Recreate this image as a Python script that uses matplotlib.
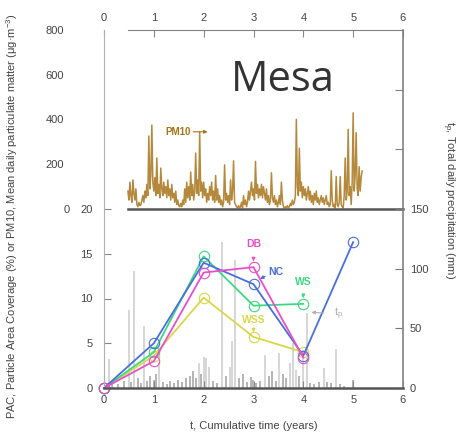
import matplotlib
matplotlib.use('Agg')
import matplotlib.pyplot as plt
import matplotlib.transforms as mtransforms
import numpy as np

plt.rcParams['font.family'] = ['Liberation Sans', 'DejaVu Sans']
plt.rcParams['mathtext.default'] = 'regular'

# PAC (%) at each yearly visit, per site
years = [0, 1, 2, 3, 4, 5]
pac_nc = [0.0, 5.0, 14.0, 11.6, 3.6, 16.3]
pac_db = [0.0, 3.0, 12.9, 13.5, 3.4]
pac_ws = [0.0, 4.0, 14.7, 9.2, 9.4]
pac_wss = [0.0, 3.6, 10.1, 5.7, 4.0]

# daily precipitation events (years, mm)
rain_t = [0.10, 0.16, 0.28, 0.40, 0.50, 0.54, 0.61, 0.68, 0.74, 0.80,
          0.86, 0.92, 1.00, 1.04, 1.10, 1.18, 1.26, 1.32, 1.40, 1.48,
          1.56, 1.64, 1.72, 1.78, 1.84, 1.90, 1.94, 2.00, 2.05, 2.10,
          2.18, 2.26, 2.37, 2.44, 2.52, 2.57, 2.62, 2.70, 2.78, 2.86,
          2.94, 2.98, 3.06, 3.14, 3.24, 3.32, 3.38, 3.46, 3.52, 3.60,
          3.66, 3.73, 3.80, 3.86, 3.92, 3.99, 4.07, 4.14, 4.22, 4.32,
          4.41, 4.48, 4.56, 4.65, 4.74, 4.82, 5.00]
rain_mm = [24, 4, 3, 6, 65, 5, 98, 8, 4, 52,
           6, 10, 7, 12, 21, 5, 3, 6, 4, 7,
           5, 8, 10, 14, 8, 21, 12, 26, 25, 18,
           6, 4, 122, 10, 18, 39, 107, 8, 12, 5,
           9, 7, 4, 6, 28, 10, 14, 6, 29, 12,
           8, 21, 38, 15, 10, 32, 63, 4, 3, 5,
           17, 5, 4, 33, 3, 2, 7]

# PM10 daily record (ug/m3), sampled every 0.02 yr from t = 0.48
pm10_start = 0.48
pm10 = [80, 40, 120, 60, 30, 130, 70, 40, 90, 20, 10, 30, 15,
        20, 40, 60, 30, 80, 50, 110, 60,
        326, 90, 150, 375, 120, 80, 140, 60, 228, 70, 110, 50, 183, 90,
        60, 120, 70, 100, 50, 130, 60, 90, 40, 110, 50, 70, 30, 80, 20,
        40, 15, 10, 25, 10, 40, 20, 90, 30, 120, 50, 100, 40, 165, 60,
        110, 40, 80, 250, 70, 130, 60, 345, 80, 120, 50, 120, 60, 90, 30,
        70, 40, 100, 60, 120, 40, 80, 30,
        150, 40, 90, 30, 60, 20, 40, 10, 30, 197, 40, 70, 30, 60, 20,
        130, 40, 80, 215, 30, 20, 10, 5, 15, 5, 10, 30, 5, 60, 20, 40,
        10, 30, 80, 40, 80, 120, 60, 90, 40, 213, 70, 110, 50, 90, 60,
        110, 50, 100, 70, 40, 90, 30, 60, 20, 40, 162, 50, 30, 60, 20,
        40, 10, 30, 60, 20, 120, 40, 10, 5, 10, 5, 15, 5, 10, 25, 15,
        40, 20, 30, 60, 401, 100, 60, 272, 80, 120, 50, 100, 60, 90, 40,
        70, 100, 40, 80, 30, 60, 20, 70, 40, 80, 30, 50, 20, 40, 60, 30,
        50, 20, 40, 60, 20, 30, 10, 20, 171, 40, 10, 20, 5, 145, 20, 10,
        30, 145, 20, 10, 5, 60, 228, 40, 80, 356, 60, 100, 20, 120, 430,
        80, 150, 341, 90, 60, 189, 80, 140, 170]

c_nc = '#4a6ee0'
c_db = '#ea4fc8'
c_ws = '#3fd882'
c_wss = '#d8d84a'
c_pm = '#a8741a'
c_text = '#444444'

W, H = 467, 433
fig = plt.figure(figsize=(W / 100, H / 100), dpi=100)

x0, x1 = 104, 403
ax = fig.add_axes([x0 / W, 1 - 388 / H, (x1 - x0) / W, 179 / H])
ax_pm = fig.add_axes([x0 / W, 1 - 209 / H, (x1 - x0) / W, 179 / H])

# precipitation on its own right-hand scale, behind the PAC lines
axr = ax.twinx()
ax.set_zorder(axr.get_zorder() + 1)
ax.patch.set_visible(False)
rain_mm = np.array(rain_mm)
axr.vlines(rain_t, 0, rain_mm, color=np.where(rain_mm < 15, '#a8a8a8', '#d0d0d0'),
           lw=1.2)
axr.set_ylim(0, 150)
axr.set_yticks([0, 50, 100, 150])
axr.tick_params(axis='y', direction='in', length=6, pad=5, labelsize=8,
                colors='#777777', labelcolor=c_text)

for vals, col in [(pac_wss, c_wss), (pac_ws, c_ws), (pac_nc, c_nc), (pac_db, c_db)]:
    ax.plot(years[:len(vals)], vals, color=col, lw=1.3, marker='o', ms=7.5,
            mfc='none', mec=col, mew=0.8, clip_on=False)

ax.set_xlim(0, 6)
ax.set_ylim(0, 20)
ax.set_xticks(range(7))
ax.set_yticks([0, 5, 10, 15, 20])
ax.tick_params(axis='both', direction='in', length=5, labelsize=8,
               colors='#888888', labelcolor=c_text)
ax.tick_params(axis='y', pad=8)
ax.tick_params(axis='x', pad=5)

for a in (ax, axr):
    a.spines['top'].set_visible(False)
ax.spines['right'].set_visible(False)
axr.spines['left'].set_visible(False)
axr.spines['bottom'].set_visible(False)
ax.spines['left'].set_color('#b0b0b0')
ax.spines['bottom'].set_color('#555555')
ax.spines['bottom'].set_linewidth(1.8)
axr.spines['right'].set_color('#808080')
axr.spines['right'].set_linewidth(1.2)

ann = dict(fontsize=7.5, fontweight='bold', ha='center', va='center')
ax.annotate('DB', xy=(3.0, 14.15), xytext=(3.0, 16.1), color=c_db,
            arrowprops=dict(arrowstyle='-|>', color=c_db, lw=0.8,
                            mutation_scale=5, shrinkA=4, shrinkB=0), **ann)
ax.annotate('NC', xy=(3.13, 12.2), xytext=(3.44, 13.0), color=c_nc,
            arrowprops=dict(arrowstyle='-|>', color=c_nc, lw=0.8,
                            mutation_scale=5, shrinkA=5, shrinkB=0), **ann)
ax.annotate('WS', xy=(4.0, 10.05), xytext=(4.0, 11.8), color=c_ws,
            arrowprops=dict(arrowstyle='-|>', color=c_ws, lw=0.8,
                            mutation_scale=5, shrinkA=4, shrinkB=0), **ann)
ax.annotate('WSS', xy=(3.0, 6.2), xytext=(3.0, 7.6), color=c_wss,
            arrowprops=dict(arrowstyle='-|>', color=c_wss, lw=0.8,
                            mutation_scale=5, shrinkA=4, shrinkB=0), **ann)
ax.annotate('$t_p$', xy=(4.16, 8.45), xytext=(4.7, 8.3), color='#b0b0b0',
            fontsize=8, ha='center', va='center',
            arrowprops=dict(arrowstyle='-|>', color='#b0b0b0', lw=0.8,
                            mutation_scale=5, shrinkA=5, shrinkB=0))

# upper panel: PM10
t_pm = pm10_start + 0.02 * np.arange(len(pm10))
ax_pm.plot(t_pm, pm10, color=c_pm, lw=1.1, alpha=0.85)
ax_pm.set_xlim(0, 6)
ax_pm.set_ylim(0, 800)
ax_pm.set_yticks([0, 200, 400, 600, 800])
ax_pm.set_xticks(range(7))
ax_pm.xaxis.tick_top()
ax_pm.tick_params(axis='x', direction='in', length=5, pad=5, labelsize=8,
                  colors='#888888', labelcolor=c_text)
ax_pm.tick_params(axis='y', length=0, pad=29, labelsize=8, labelcolor=c_text)
ax_pm.patch.set_visible(False)
shift = mtransforms.ScaledTranslation(6 / 100, 0, fig.dpi_scale_trans)
for lab in ax_pm.get_yticklabels():
    if lab.get_text() == '0':
        lab.set_transform(lab.get_transform() + shift)

ax_pm.spines['top'].set_bounds(0.48, 6)
ax_pm.spines['top'].set_color('#808080')
ax_pm.spines['bottom'].set_bounds(0.48, 6)
ax_pm.spines['bottom'].set_color('#555555')
ax_pm.spines['bottom'].set_linewidth(1.8)
ax_pm.spines['left'].set_color('#b0b0b0')
ax_pm.spines['right'].set_color('#808080')
ax_pm.spines['right'].set_linewidth(1.2)

ax_pm_r = ax_pm.twinx()
ax_pm_r.set_ylim(0, 3)
ax_pm_r.set_yticks([1, 2])
ax_pm_r.set_yticklabels([])
ax_pm_r.tick_params(axis='y', direction='in', length=6, colors='#808080')
for s in ax_pm_r.spines.values():
    s.set_visible(False)

ax_pm.annotate('PM10', xy=(2.08, 345), xytext=(1.48, 345), color=c_pm,
               fontsize=7, fontweight='bold', ha='center', va='center',
               arrowprops=dict(arrowstyle='-|>', color=c_pm, lw=0.8,
                               mutation_scale=5, shrinkA=12, shrinkB=0))

ax_pm.text(2.55, 577, 'Mesa', fontsize=30, family='Open Sans', color='#333333',
           ha='left', va='center')

fig.text(12 / W, 0.5, 'PAC, Particle Area Coverage (%) or PM10, Mean daily '
         'particulate matter (μg·m$^{-3}$)', rotation=90, fontsize=8,
         color=c_text, ha='center', va='center')
fig.text(254 / W, 1 - 426 / H, 't, Cumulative time (years)', fontsize=8,
         color=c_text, ha='center', va='center')
fig.text(448 / W, 1 - 200 / H, '$t_p$, Total daily precipitation (mm)',
         rotation=270, fontsize=8, color=c_text, ha='center', va='center')

fig.savefig('out.png', dpi=100)
